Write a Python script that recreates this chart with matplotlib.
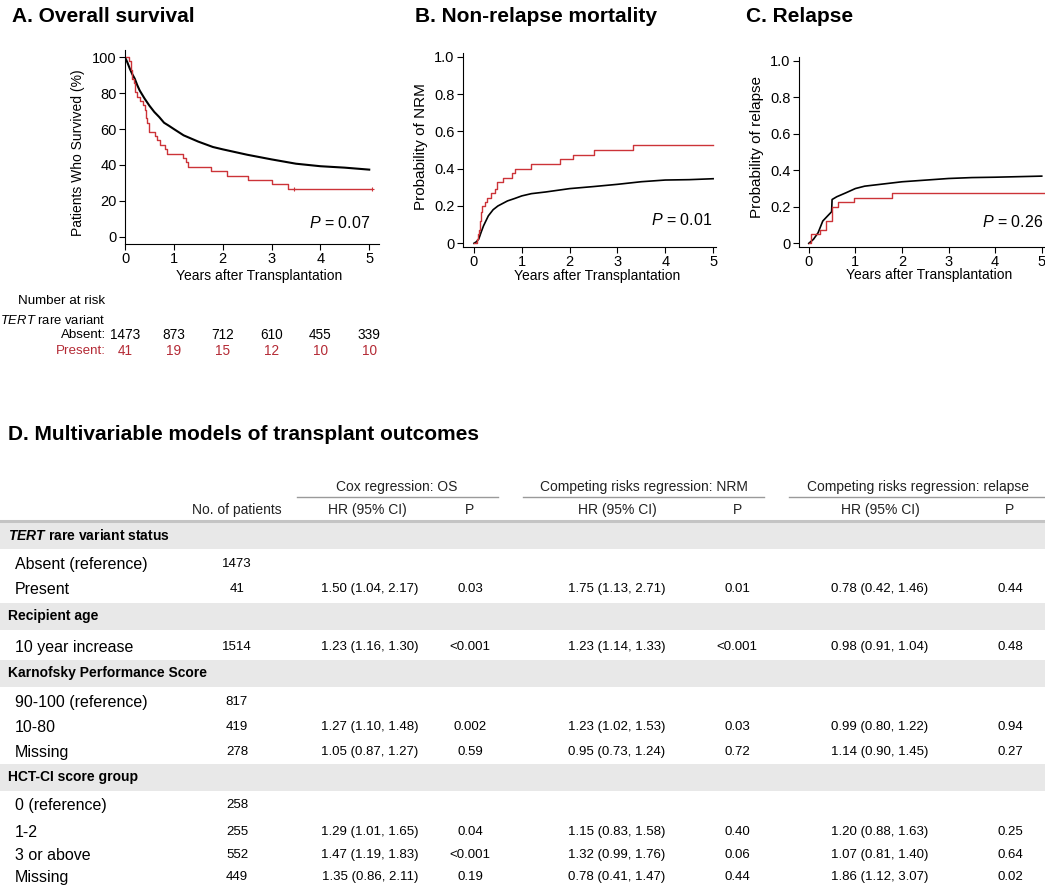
import matplotlib
matplotlib.use('Agg')
import matplotlib.pyplot as plt
import matplotlib.transforms as mtransforms

plt.rcParams['font.family'] = ['Liberation Sans', 'DejaVu Sans']
plt.rcParams['mathtext.fontset'] = 'custom'
plt.rcParams['mathtext.rm'] = 'Liberation Sans'
plt.rcParams['mathtext.it'] = 'Liberation Sans:italic'
plt.rcParams['mathtext.bf'] = 'Liberation Sans:bold'
plt.rcParams['mathtext.bfit'] = 'Liberation Sans:italic:bold'

RED = '#cc3338'
RED_TXT = '#b42a35'

# --- A. overall survival (%)
os_absent_t = [0, 0.05, 0.1, 0.15, 0.2, 0.25, 0.3, 0.4, 0.5, 0.6, 0.7, 0.8, 0.9, 1.0, 1.2, 1.5,
               1.8, 2.0, 2.5, 3.0, 3.5, 4.0, 4.5, 5.0]
os_absent_s = [100, 97, 93.5, 90.5, 88, 84.5, 81.5, 77, 73, 69.5, 66.7, 63.5, 61.8, 60, 56.5, 53,
               50, 48.7, 45.7, 43.1, 40.7, 39.3, 38.5, 37.4]
os_present_t = [0, 0.08, 0.12, 0.15, 0.18, 0.21, 0.25, 0.30, 0.37, 0.40, 0.43, 0.46, 0.50, 0.61,
                0.66, 0.72, 0.82, 0.86, 1.18, 1.24, 1.28, 1.77, 2.08, 2.51, 3.0, 3.34, 5.05]
os_present_s = [100, 97.6, 92.7, 87.8, 85.4, 80.5, 78.0, 75.6, 73.2, 70.7, 65.9, 63.4, 58.5, 56.1,
                53.7, 51.2, 48.8, 46.3, 43.9, 41.5, 39.0, 36.6, 34.1, 31.7, 29.3, 26.8, 26.8]
os_present_cens_t = [3.45, 5.05]
os_present_cens_s = [26.8, 26.8]

# --- B. non-relapse mortality
nrm_absent_t = [0, 0.05, 0.1, 0.15, 0.2, 0.3, 0.4, 0.5, 0.7, 0.85, 1.0, 1.2, 1.5, 2.0, 2.5, 3.0,
                3.5, 4.0, 4.5, 5.0]
nrm_absent_p = [0, 0.008, 0.023, 0.06, 0.094, 0.147, 0.18, 0.2, 0.227, 0.24, 0.254, 0.266, 0.275,
                0.293, 0.304, 0.316, 0.33, 0.339, 0.341, 0.346]
nrm_present_t = [0, 0.03, 0.06, 0.09, 0.11, 0.13, 0.15, 0.17, 0.22, 0.28, 0.36, 0.44, 0.49, 0.61,
                 0.79, 0.85, 1.19, 1.80, 2.07, 2.51, 3.32, 5.0]
nrm_present_p = [0, 0, 0.024, 0.049, 0.073, 0.12, 0.17, 0.2, 0.22, 0.244, 0.268, 0.293, 0.33, 0.35,
                 0.375, 0.40, 0.425, 0.45, 0.475, 0.50, 0.525, 0.525]

# --- C. relapse
rel_absent_t = [0, 0.1, 0.2, 0.3, 0.4, 0.49, 0.5, 0.6, 0.8, 1.0, 1.2, 1.5, 2.0, 2.5, 3.0, 3.5, 4.0, 5.0]
rel_absent_p = [0, 0.022, 0.058, 0.122, 0.149, 0.173, 0.24, 0.255, 0.277, 0.30, 0.313, 0.322,
                0.337, 0.346, 0.355, 0.36, 0.362, 0.368]
rel_present_t = [0, 0.05, 0.24, 0.38, 0.49, 0.62, 0.97, 1.78, 5.05]
rel_present_p = [0, 0.049, 0.073, 0.122, 0.2, 0.226, 0.25, 0.277, 0.277]

# --- number at risk
risk_years = [0, 1, 2, 3, 4, 5]
risk_absent = [1473, 873, 712, 610, 455, 339]
risk_present = [41, 19, 15, 12, 10, 10]

# --- D. multivariable table
section_titles = [r'$\mathbfit{TERT}$ rare variant status', 'Recipient age',
                  'Karnofsky Performance Score', 'HCT-CI score group']
row_labels = ['Absent (reference)', 'Present', '10 year increase', '90-100 (reference)', '10-80',
              'Missing', '0 (reference)', '1-2', '3 or above', 'Missing']
n_patients = ['1473', '41', '1514', '817', '419', '278', '258', '255', '552', '449']
os_hr = ['', '1.50 (1.04, 2.17)', '1.23 (1.16, 1.30)', '', '1.27 (1.10, 1.48)', '1.05 (0.87, 1.27)',
         '', '1.29 (1.01, 1.65)', '1.47 (1.19, 1.83)', '1.35 (0.86, 2.11)']
os_p = ['', '0.03', '<0.001', '', '0.002', '0.59', '', '0.04', '<0.001', '0.19']
nrm_hr = ['', '1.75 (1.13, 2.71)', '1.23 (1.14, 1.33)', '', '1.23 (1.02, 1.53)', '0.95 (0.73, 1.24)',
          '', '1.15 (0.83, 1.58)', '1.32 (0.99, 1.76)', '0.78 (0.41, 1.47)']
nrm_p = ['', '0.01', '<0.001', '', '0.03', '0.72', '', '0.40', '0.06', '0.44']
rel_hr = ['', '0.78 (0.42, 1.46)', '0.98 (0.91, 1.04)', '', '0.99 (0.80, 1.22)', '1.14 (0.90, 1.45)',
          '', '1.20 (0.88, 1.63)', '1.07 (0.81, 1.40)', '1.86 (1.12, 3.07)']
rel_p = ['', '0.44', '0.48', '', '0.94', '0.27', '', '0.25', '0.64', '0.02']
model_titles = ['Cox regression: OS', 'Competing risks regression: NRM',
                'Competing risks regression: relapse']

W, H = 1045, 888


def box(l, t, r, b):
    return [l / W, 1 - b / H, (r - l) / W, (b - t) / H]


def style(ax):
    for s in ['top', 'right']:
        ax.spines[s].set_visible(False)
    for s in ['left', 'bottom']:
        ax.spines[s].set_linewidth(0.8)
    ax.tick_params(direction='out', length=4, width=0.8, labelsize=10.5, pad=2)
    ax.set_facecolor('none')


fig = plt.figure(figsize=(10.45, 8.88), dpi=100)
bg = fig.add_axes([0, 0, 1, 1])
bg.set_xlim(0, W)
bg.set_ylim(H, 0)
bg.axis('off')

axA = fig.add_axes(box(125, 50, 379, 244))
axB = fig.add_axes(box(463, 53, 716, 247))
axC = fig.add_axes(box(799, 57, 1045, 247))

# A
style(axA)
axA.plot(os_absent_t, os_absent_s, color='black', lw=1.5)
axA.step(os_present_t, os_present_s, where='post', color=RED, lw=1.0)
axA.plot(os_present_cens_t, os_present_cens_s, ls='none', marker='+', ms=3.5, mew=0.8, color=RED)
axA.set_xlim(0, 5.2)
axA.set_ylim(-4, 104)
axA.set_xticks(range(6))
axA.set_yticks(range(0, 101, 20))
axA.set_xlabel('Years after Transplantation', fontsize=10)
axA.set_ylabel('Patients Who Survived (%)', fontsize=10)
axA.xaxis.set_label_coords(0.53, -0.13)
axA.yaxis.set_label_coords(-0.157, 0.47)

# B and C
prob_ticks = [0, 0.2, 0.4, 0.6, 0.8, 1.0]
prob_labels = ['0', '0.2', '0.4', '0.6', '0.8', '1.0']
for ax, ta, pa, tp, pp, ylab, xl, lc in [
        (axB, nrm_absent_t, nrm_absent_p, nrm_present_t, nrm_present_p, 'Probability of NRM',
         (-0.23, 5.06), (-0.138, 0.52)),
        (axC, rel_absent_t, rel_absent_p, rel_present_t, rel_present_p, 'Probability of relapse',
         (-0.21, 5.07), (-0.142, 0.525))]:
    style(ax)
    ax.plot(ta, pa, color='black', lw=1.2)
    ax.step(tp, pp, where='post', color=RED, lw=1.0)
    ax.set_xlim(*xl)
    ax.set_ylim(-0.02, 1.02)
    ax.set_xticks(range(6))
    ax.set_yticks(prob_ticks)
    ax.set_yticklabels(prob_labels)
    ax.set_xlabel('Years after Transplantation', fontsize=10)
    ax.set_ylabel(ylab, fontsize=11)
    ax.xaxis.set_label_coords(0.53, -0.113)
    ax.yaxis.set_label_coords(*lc)

# panel titles
for x, y, t in [(12, 17, 'A. Overall survival'), (415, 17, 'B. Non-relapse mortality'),
                (746, 17, 'C. Relapse'), (8, 434, 'D. Multivariable models of transplant outcomes')]:
    bg.text(x, y, t, fontsize=15, fontweight='bold', ha='left', va='center')

# P values
for x, y, t in [(370, 223, '0.07'), (712, 220, '0.01'), (1043, 222, '0.26')]:
    bg.text(x, y, r'$\mathit{P}$ = ' + t, fontsize=11.5, ha='right', va='center')

# number at risk table
bg.text(105, 301, 'Number at risk', fontsize=9.6, ha='right', va='center')
bg.text(105, 320, r'$\mathit{TERT}$ rare variant', fontsize=9.4, ha='right', va='center')
bg.text(106, 335, 'Absent:', fontsize=9.6, ha='right', va='center')
bg.text(106, 351, 'Present:', fontsize=9.6, ha='right', va='center', color=RED_TXT)
trans = mtransforms.blended_transform_factory(axA.transData, bg.transData)
for x, a, p in zip(risk_years, risk_absent, risk_present):
    bg.text(x, 335, str(a), transform=trans, fontsize=9.8, ha='center', va='center')
    bg.text(x, 351, str(p), transform=trans, fontsize=9.8, ha='center', va='center', color=RED_TXT)

# D table
section_y = [535, 616, 673, 777]
band_half = 13.5
row_y = [564, 589, 647, 702, 727, 752, 805, 832, 855, 877]

for y in section_y:
    bg.axhspan(y - band_half, y + band_half, color='#e8e8e8', lw=0, zorder=0)
bg.axhline(521, color='#c4c4c4', lw=2.2, zorder=1)

for (x0, x1), cx, t in zip([(297, 498), (523, 764), (789, 1045)], [397, 644, 918], model_titles):
    bg.text(cx, 487, t, fontsize=10, ha='center', va='center', color='#222222')
    bg.plot([x0, x1], [497, 497], color='#9a9a9a', lw=1)

bg.text(237, 510, 'No. of patients', fontsize=10, ha='center', va='center', color='#222222')
for hx, px in [(367, 470), (617, 737), (880, 1010)]:
    bg.text(hx, 510, 'HR (95% CI)', fontsize=10, ha='center', va='center', color='#222222')
    bg.text(px, 510, 'P', fontsize=10, ha='center', va='center', color='#222222')

for y, t in zip(section_y, section_titles):
    bg.text(8, y, t, fontsize=10, fontweight='bold', ha='left', va='center')

cols = [(237, n_patients), (370, os_hr), (470, os_p), (617, nrm_hr), (737, nrm_p),
        (880, rel_hr), (1010, rel_p)]
for i, y in enumerate(row_y):
    bg.text(15, y, row_labels[i], fontsize=11.5, ha='left', va='center')
    for cx, vals in cols:
        bg.text(cx, y, vals[i], fontsize=9.5, ha='center', va='center')

fig.savefig('out.png', dpi=100)
